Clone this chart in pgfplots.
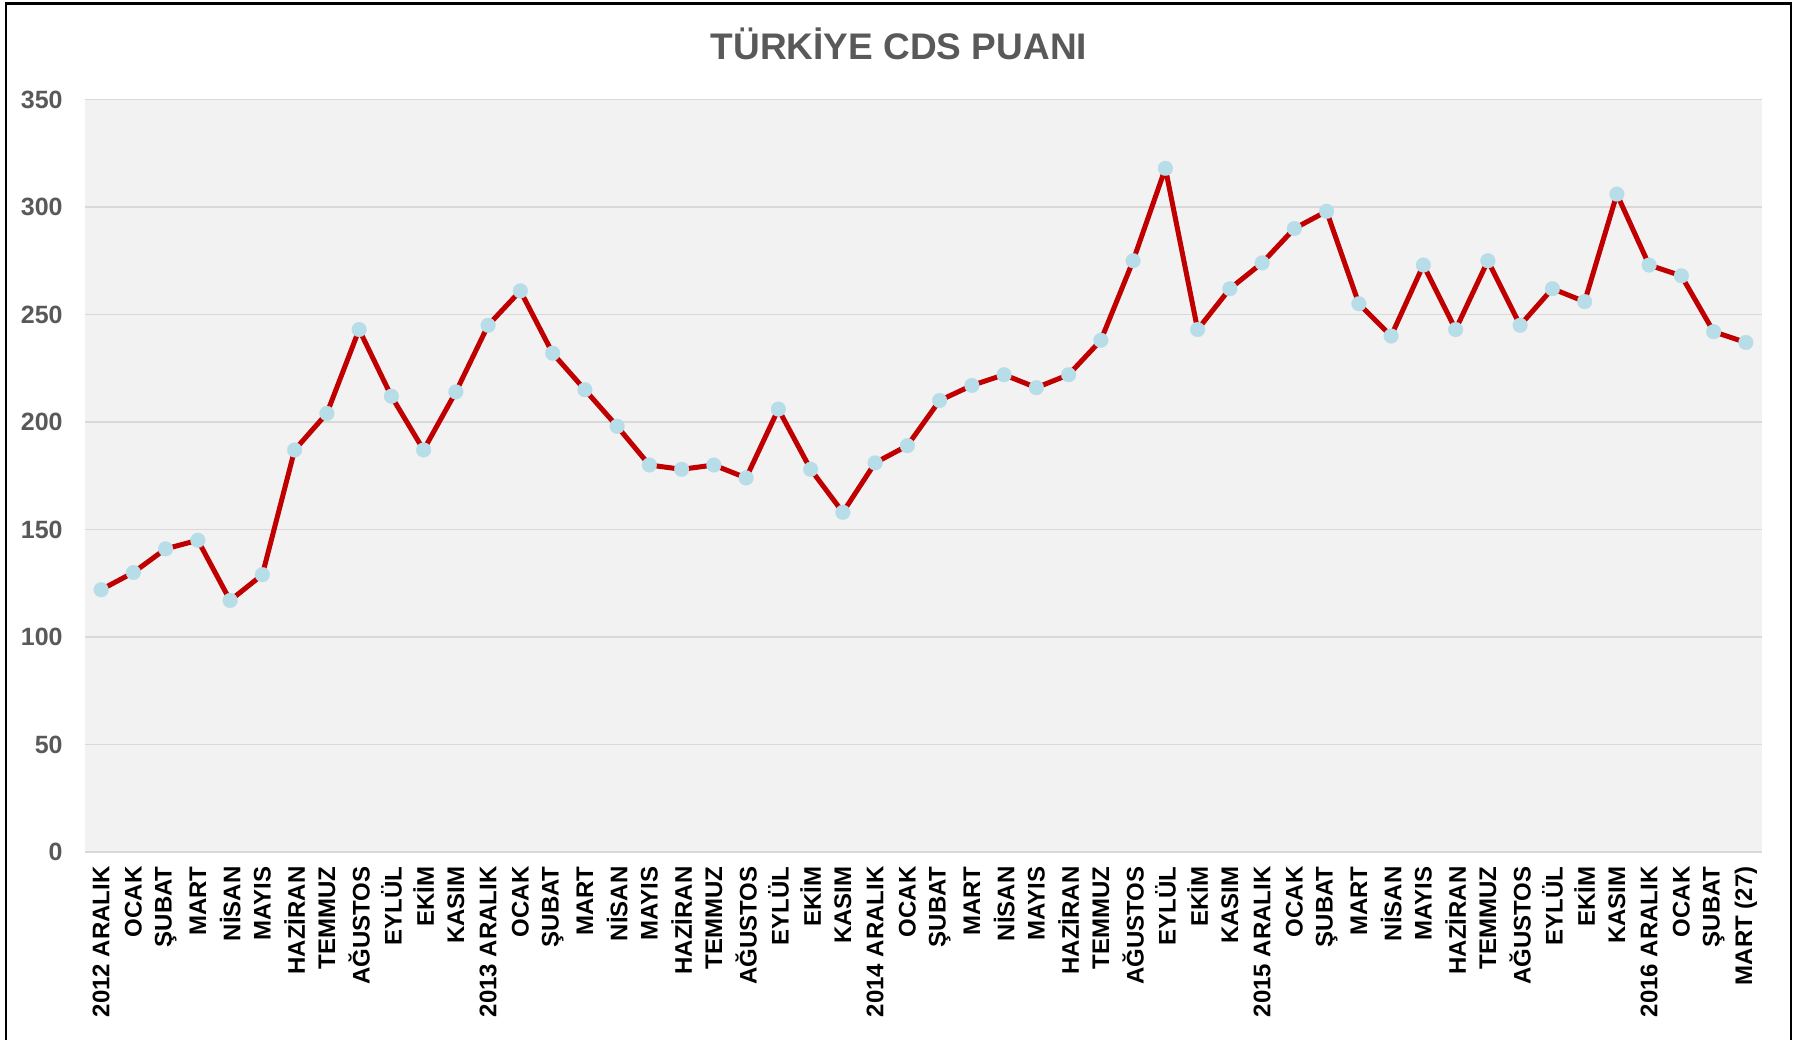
\documentclass[border=0pt]{standalone}
\usepackage{pgfplots}
\pgfplotsset{compat=1.18}
\usepackage{fontspec}
\setmainfont{Liberation Sans}
\definecolor{cdsred}{HTML}{C00000}
\definecolor{cdsmark}{HTML}{B7DEE8}
\definecolor{bggray}{HTML}{F2F2F2}
\definecolor{gridgray}{HTML}{D9D9D9}
\definecolor{txtgray}{HTML}{595959}
\begin{document}
\begin{tikzpicture}
\useasboundingbox (0,0) rectangle (899pt,-519.5pt);
\draw[line width=1.1pt] (3pt,-520pt) -- (3pt,-1.7pt) -- (895.5pt,-1.7pt) -- (895.5pt,-520pt);
\node[font=\bfseries\fontsize{18.5}{20}\selectfont, text=txtgray] at (449.5pt,-22pt) {TÜRKİYE CDS PUANI};
\begin{axis}[
  at={(42.5pt,-426pt)}, anchor=south west,
  scale only axis, width=838.5pt, height=376.25pt,
  xmin=-0.5, xmax=51.5, ymin=0, ymax=350,
  axis line style={draw=none},
  axis background/.style={fill=bggray},
  ymajorgrids, major grid style={gridgray, line width=0.8pt},
  ytick={0,50,...,350},
  xtick={0,...,51},
  major tick length=0pt,
  xticklabels={2012 ARALIK,OCAK,ŞUBAT,MART,NİSAN,MAYIS,HAZİRAN,TEMMUZ,AĞUSTOS,EYLÜL,EKİM,KASIM,2013 ARALIK,OCAK,ŞUBAT,MART,NİSAN,MAYIS,HAZİRAN,TEMMUZ,AĞUSTOS,EYLÜL,EKİM,KASIM,2014 ARALIK,OCAK,ŞUBAT,MART,NİSAN,MAYIS,HAZİRAN,TEMMUZ,AĞUSTOS,EYLÜL,EKİM,KASIM,2015 ARALIK,OCAK,ŞUBAT,MART,NİSAN,MAYIS,HAZİRAN,TEMMUZ,AĞUSTOS,EYLÜL,EKİM,KASIM,2016 ARALIK,OCAK,ŞUBAT,MART (27)},
  xticklabel style={rotate=90, anchor=east, inner sep=0pt, font=\bfseries\fontsize{12}{12}\selectfont, text=black},
  xticklabel shift=7pt,
  yticklabel style={anchor=east, inner sep=0pt, font=\bfseries\fontsize{12.5}{12.5}\selectfont, text=txtgray},
  yticklabel shift=11pt,
  /pgf/number format/assume math mode=true,
  clip=false,
]
\addplot[cdsred, line width=2.5pt, line join=round, mark=*, mark size=3.7pt, mark options={draw=cdsmark, fill=cdsmark, line width=0.1pt}] coordinates {
(0,122)(1,130)(2,141)(3,145)(4,117)(5,129)(6,187)(7,204)(8,243)(9,212)
(10,187)(11,214)(12,245)(13,261)(14,232)(15,215)(16,198)(17,180)(18,178)(19,180)
(20,174)(21,206)(22,178)(23,158)(24,181)(25,189)(26,210)(27,217)(28,222)(29,216)
(30,222)(31,238)(32,275)(33,318)(34,243)(35,262)(36,274)(37,290)(38,298)(39,255)
(40,240)(41,273)(42,243)(43,275)(44,245)(45,262)(46,256)(47,306)(48,273)(49,268)
(50,242)(51,237)
};
\end{axis}
\end{tikzpicture}
\end{document}
